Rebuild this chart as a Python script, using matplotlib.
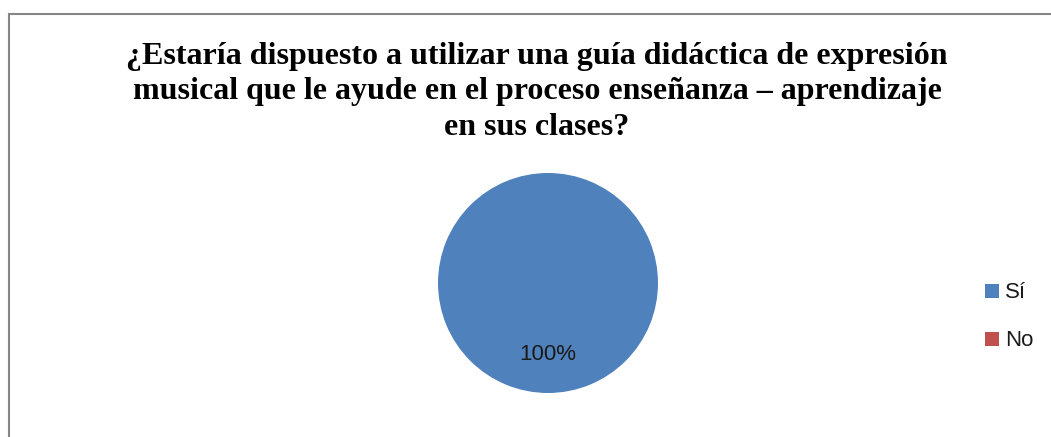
import matplotlib.pyplot as plt
from matplotlib.patches import Rectangle

# Data
labels = ['Sí', 'No']
values = [100, 0]
colors = ['#4F81BD', '#C0504D']
title = ('¿Estaría dispuesto a utilizar una guía didáctica de expresión\n'
         'musical que le ayude en el proceso enseñanza – aprendizaje\n'
         'en sus clases?')

W, H = 1051, 437
fig = plt.figure(figsize=(W / 100, H / 100), dpi=100)

# chart border (the frame runs off the right and bottom edges)
fig.patches.append(Rectangle((9 / W, -0.05), 1.2, 1 - 14 / H + 0.05,
                             transform=fig.transFigure, fill=False,
                             edgecolor='#868686', linewidth=1.5))

fig.text(537 / W, 1 - 92 / H, title, ha='center', va='center',
         fontsize=23, fontweight='bold', family='Liberation Serif',
         linespacing=1.31)

# pie axes: centre (548, 283), radius 110
r = 110
ax = fig.add_axes([(548 - r) / W, 1 - (283 + r) / H, 2 * r / W, 2 * r / H])
wedges, _ = ax.pie([v for v in values if v > 0], colors=colors[:1],
                   startangle=90, counterclock=False, radius=1)
ax.set_xlim(-1, 1)
ax.set_ylim(-1, 1)
ax.set_aspect('equal')
ax.axis('off')
ax.text(0, -0.65, f'{values[0]}%', ha='center', va='center',
        fontsize=16, family='Liberation Sans', color='#1a1a1a')

# legend
for i, (lab, col) in enumerate(zip(labels, colors)):
    y = 291 + i * 48
    fig.patches.append(Rectangle((985 / W, 1 - (y + 7) / H), 14 / W, 14 / H,
                                 transform=fig.transFigure, facecolor=col,
                                 edgecolor='none'))
    fig.text(1005 / W, 1 - (y + 1) / H, lab, ha='left', va='center',
             fontsize=16, family='Liberation Sans', color='#1a1a1a')

plt.savefig('out.png', dpi=100)
